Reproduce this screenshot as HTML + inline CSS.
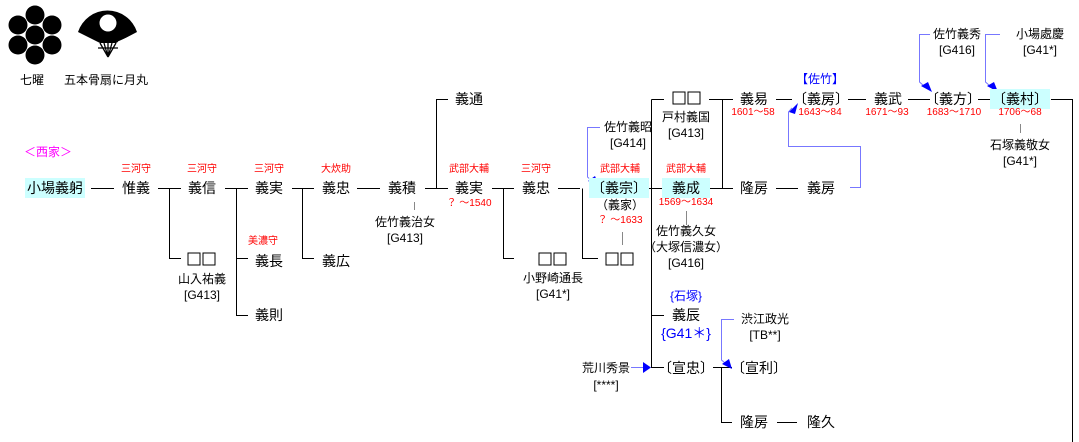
<!DOCTYPE html>
<html><head><meta charset="utf-8"><style>
body{margin:0;width:1079px;height:442px;background:#fff;position:relative;overflow:hidden;font-family:"Liberation Sans","Noto Sans CJK JP",sans-serif;}
.t{position:absolute;transform:translate(-50%,-50%);white-space:nowrap;color:#000;font-size:14px;line-height:1;}
.s{font-size:12px;}
.r{color:#f00;font-size:10px;}
.b{color:#00f;}
.m{color:#f0f;font-size:12px;}
.h{background:#ccffff;padding:3px 2px;}
.q{position:absolute;transform:translate(-50%,-50%);width:29px;height:13px;}
.q:before,.q:after{content:"";position:absolute;top:0;width:11px;height:11px;border:1px solid #000;}
.q:before{left:0}.q:after{left:15px}
svg{position:absolute;left:0;top:0;}
</style></head><body>
<svg width="1079" height="442">
<g fill="#000">
<circle cx="35" cy="35" r="9.5"/><circle cx="35" cy="15" r="9.5"/><circle cx="18" cy="25" r="9.5"/><circle cx="52" cy="25" r="9.5"/><circle cx="18" cy="45" r="9.5"/><circle cx="52" cy="45" r="9.5"/><circle cx="35" cy="55" r="9.5"/>
<path d="M78,32 A31,31 0 0 1 137,32 L116,43 L100,43 Z"/>
</g>
<path d="M118,42 L136,34" stroke="#fff" stroke-width="1"/>
<path d="M100,43 L108,57 M104,43 L108,57 M108,43 L108,57 M112,43 L108,57 M116,43 L108,57 M98,48 L118,48" stroke="#000" stroke-width="1.3"/>
<circle cx="108" cy="23" r="8.5" fill="#fff"/>
<g stroke="#000" stroke-width="1" fill="none">
<path d="M91,188.5H114 M158,188.5H181 M169.5,188.5V258.5H181 M225,188.5H248 M236.5,188.5V315.5H248 M236.5,258.5H248 M292,188.5H314 M302.5,188.5V258.5H314 M357,188.5H380 M425,188.5H448 M436.5,188.5V99.5H448 M492,188.5H514 M503.5,188.5V258.5H514 M558,188.5H580 M582.5,188.5V258.5H598 M643,188.5H665 M651.5,99.5V367.5H664 M651.5,99.5H664 M651.5,315.5H664 M708,188.5H733 M722.5,188.5V99.5H733 M776,188.5H798 M709,99.5H731 M776,99.5H792 M848,99.5H866 M908,99.5H930 M978,99.5H996 M1051,99.5H1072.5V442 M713,367.5H732 M721.5,367.5V422.5H732 M777,422.5H797"/>
</g>
<g stroke="#888" stroke-width="1">
<path d="M414.5,202V210 M622.5,232V245 M686.5,211V225 M1020.5,124V133"/>
</g>
<g stroke="#77f" stroke-width="1" fill="none">
<path d="M930,34.5H919.5V82 L924,86 M1000,34.5H985.5V82 L990,86 M850,187.5H860.5V146.5H788.5V112 L792,108 M600,127.5H587.5V177 L591,180 M734,319.5H721.5V360 L725,363 M631,367.5H644"/>
</g>
<g fill="#00f">
<path d="M921,86 L932,92 L928,82 Z"/><path d="M987,86 L998,92 L994,82 Z"/>
<path d="M789,112 L798,103 L795,114 Z"/><path d="M588,181 L599,186 L595,176 Z"/>
<path d="M722,364 L732,369 L729,359 Z"/><path d="M643,362 L651,367.5 L643,373 Z"/>
</g>
</svg>
<div class="t s" style="left:32px;top:80px">七曜</div>
<div class="t s" style="left:106px;top:80px">五本骨扇に月丸</div>
<div class="t m" style="left:48px;top:152px">＜西家＞</div>

<div class="t h" style="left:55px;top:188px">小場義躬</div>
<div class="r t" style="left:136px;top:170px">三河守</div><div class="t" style="left:136px;top:188px">惟義</div>
<div class="r t" style="left:202px;top:170px">三河守</div><div class="t" style="left:202px;top:188px">義信</div>
<div class="r t" style="left:269px;top:170px">三河守</div><div class="t" style="left:269px;top:188px">義実</div>
<div class="r t" style="left:336px;top:170px">大炊助</div><div class="t" style="left:336px;top:188px">義忠</div>
<div class="t" style="left:402px;top:188px">義積</div>
<div class="t s" style="left:405px;top:222px">佐竹義治女</div><div class="t s" style="left:405px;top:238px">[G413]</div>
<div class="t" style="left:469px;top:99px">義通</div>
<div class="r t" style="left:469px;top:170px">武部大輔</div><div class="t" style="left:469px;top:188px">義実</div>
<div class="r t" style="left:469px;top:204px">？ ～1540</div>
<div class="r t" style="left:536px;top:170px">三河守</div><div class="t" style="left:536px;top:188px">義忠</div>
<div class="q" style="left:202px;top:259px"></div><div class="t s" style="left:202px;top:279px">山入祐義</div><div class="t s" style="left:202px;top:295px">[G413]</div>
<div class="r t" style="left:263px;top:242px">美濃守</div><div class="t" style="left:269px;top:261px">義長</div>
<div class="t" style="left:269px;top:315px">義則</div>
<div class="t" style="left:336px;top:261px">義広</div>
<div class="q" style="left:553px;top:259px"></div><div class="t s" style="left:553px;top:278px">小野崎通長</div><div class="t s" style="left:553px;top:294px">[G41*]</div>
<div class="t s" style="left:628px;top:127px">佐竹義昭</div><div class="t s" style="left:628px;top:143px">[G414]</div>
<div class="r t" style="left:620px;top:170px">武部大輔</div><div class="t h" style="left:619px;top:188px">〔義宗〕</div>
<div class="t s" style="left:620px;top:205px">（義家）</div>
<div class="r t" style="left:620px;top:221px">？ ～1633</div>
<div class="q" style="left:620px;top:259px"></div>
<div class="q" style="left:687px;top:98px"></div><div class="t s" style="left:686px;top:117px">戸村義国</div><div class="t s" style="left:686px;top:133px">[G413]</div>
<div class="r t" style="left:686px;top:170px">武部大輔</div><div class="t h" style="left:686px;top:188px;padding:3px 10px">義成</div>
<div class="r t" style="left:686px;top:203px">1569～1634</div>
<div class="t s" style="left:686px;top:231px">佐竹義久女</div><div class="t s" style="left:686px;top:247px">（大塚信濃女）</div><div class="t s" style="left:686px;top:263px">[G416]</div>
<div class="t s b" style="left:686px;top:296px">{石塚}</div>
<div class="t" style="left:686px;top:315px">義辰</div>
<div class="t b" style="left:686px;top:333px">{G41＊}</div>
<div class="t s" style="left:765px;top:319px">渋江政光</div><div class="t s" style="left:765px;top:335px">[TB**]</div>
<div class="t s" style="left:606px;top:368px">荒川秀景</div><div class="t s" style="left:606px;top:385px">[****]</div>
<div class="t" style="left:686px;top:368px">〔宣忠〕</div>
<div class="t" style="left:759px;top:368px">〔宣利〕</div>
<div class="t" style="left:754px;top:422px">隆房</div><div class="t" style="left:821px;top:422px">隆久</div>
<div class="t" style="left:754px;top:188px">隆房</div><div class="t" style="left:821px;top:188px">義房</div>
<div class="t" style="left:754px;top:99px">義易</div><div class="r t" style="left:753px;top:113px">1601～58</div>
<div class="t s b" style="left:820px;top:79px">【佐竹】</div>
<div class="t" style="left:821px;top:99px">〔義房〕</div><div class="r t" style="left:820px;top:113px">1643～84</div>
<div class="t" style="left:888px;top:99px">義武</div><div class="r t" style="left:887px;top:113px">1671～93</div>
<div class="t" style="left:953px;top:99px">〔義方〕</div><div class="r t" style="left:954px;top:113px">1683～1710</div>
<div class="t h" style="left:1020px;top:99px">〔義村〕</div><div class="r t" style="left:1020px;top:113px">1706～68</div>
<div class="t s" style="left:1020px;top:145px">石塚義敬女</div><div class="t s" style="left:1020px;top:161px">[G41*]</div>
<div class="t s" style="left:957px;top:34px">佐竹義秀</div><div class="t s" style="left:957px;top:50px">[G416]</div>
<div class="t s" style="left:1040px;top:34px">小場處慶</div><div class="t s" style="left:1040px;top:50px">[G41*]</div>
</body></html>
